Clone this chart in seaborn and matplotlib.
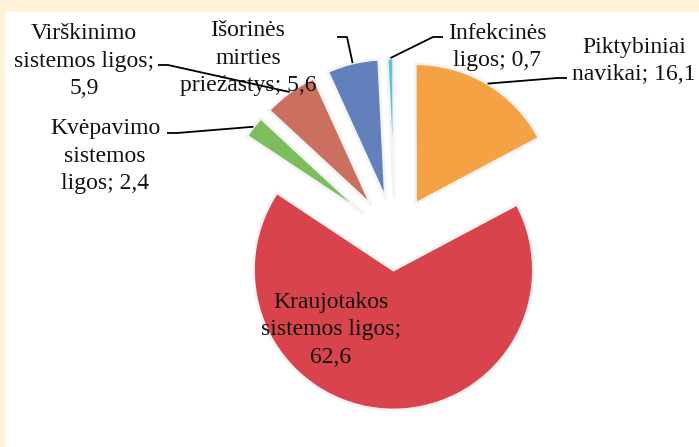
import numpy as np
import matplotlib
matplotlib.use("Agg")
import matplotlib.pyplot as plt
import seaborn as sns

# duomenys (mirties priežastys, %)
categories = ["Piktybiniai navikai", "Infekcinės ligos", "Išorinės mirties priežastys",
              "Virškinimo sistemos ligos", "Kvėpavimo sistemos ligos", "Kraujotakos sistemos ligos"]
values = [16.1, 0.7, 5.6, 5.9, 2.4, 62.6]
label_texts = ["Piktybiniai\nnavikai; 16,1", "Infekcinės\nligos; 0,7", "Išorinės\nmirties\npriežastys; 5,6",
               "Virškinimo\nsistemos ligos;\n5,9", "Kvėpavimo\nsistemos\nligos; 2,4",
               "Kraujotakos\nsistemos ligos;\n62,6"]

# stilius
colors = ["#F4A243", "#5CC3DF", "#6180BC", "#CB6F60", "#7DBD5C", "#D9434C"]
explode = [40, 40, 40, 40, 40, 32]

W, H = 699, 447
sns.set_theme(style="white")
plt.rcParams["font.family"] = ["Liberation Serif", "DejaVu Serif"]

fig = plt.figure(figsize=(W / 100, H / 100), dpi=100)
fig.patch.set_facecolor("#FEF3D8")
ax = fig.add_axes([0, 0, 1, 1])

wedges, _ = ax.pie(values, colors=colors, explode=explode, startangle=28, counterclock=True,
                   center=(395, H - 238), radius=140,
                   wedgeprops=dict(edgecolor="#F4F4F4", linewidth=2))
for w in wedges:
    w.set_zorder(2)

# pie() perrašo ribas, todėl nustatom po jo
ax.set_xlim(0, W)
ax.set_ylim(0, H)
ax.set_aspect("equal", adjustable="datalim")
ax.axis("off")
# baltas laukas
ax.add_patch(plt.Rectangle((5, 0), W - 5, H - 12, facecolor="white", edgecolor="none", zorder=0))

# etiketės: teksto centras ir linijos pradžia (px nuo viršaus)
text_pos = [(634, 61), (497, 47), (248, 58), (84, 61), (105, 156), (331, 330)]
leader_start = [(567, 78), (443, 37), (337, 37), (158, 65), (167, 133), None]
fs = 17

for w, txt, (tx, ty), ls in zip(wedges, label_texts, text_pos, leader_start):
    ax.text(tx, H - ty, txt, ha="center", va="center", fontsize=fs, linespacing=1.4,
            color="#111111", zorder=5)
    if ls is None:
        continue
    ang = np.deg2rad((w.theta1 + w.theta2) / 2)
    ex = w.center[0] + w.r * np.cos(ang)
    ey = w.center[1] + w.r * np.sin(ang)
    sx, sy = ls[0], H - ls[1]
    step = 10 if ex > sx else -10
    ax.plot([sx, sx + step, ex], [sy, sy, ey], color="black", linewidth=1.3, zorder=4,
            solid_capstyle="butt")

fig.savefig("out.png", dpi=100, facecolor=fig.get_facecolor())
